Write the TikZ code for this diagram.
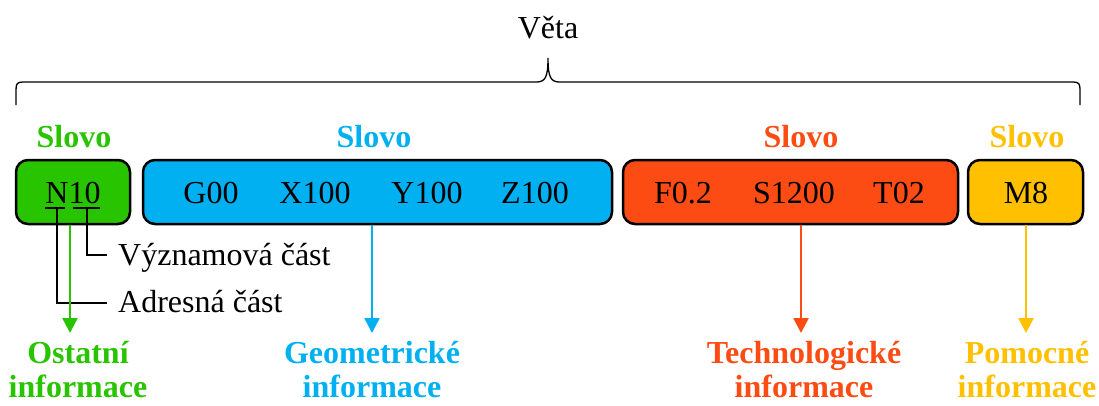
\documentclass[tikz,border=0pt]{standalone}
\usepackage{fontspec}
\setmainfont{Liberation Serif}
\newfontfamily\tms{Liberation Serif}
\usetikzlibrary{arrows.meta}
\definecolor{cgreen}{RGB}{40,196,0}
\definecolor{cblue}{RGB}{0,176,240}
\definecolor{cred}{RGB}{252,76,20}
\definecolor{cyellow}{RGB}{255,192,0}
\begin{document}
\begin{tikzpicture}[x=1pt,y=-1pt,
  box/.style={draw=black, line width=2.5pt, rounded corners=12pt, minimum height=64pt, inner sep=0pt},
  txt/.style={font=\tms\fontsize{32}{35}\selectfont, inner sep=0pt, anchor=base},
  lbl/.style={font=\tms\bfseries\fontsize{32}{34}\selectfont, inner sep=0pt, align=center, anchor=north},
  slovo/.style={font=\tms\bfseries\fontsize{32}{35}\selectfont, inner sep=0pt, anchor=base},
  arr/.style={line width=2.5pt, -{Triangle[width=15pt,length=15pt]}, shorten >=8pt},
  thin/.style={line width=2pt}]
\useasboundingbox (0,0) rectangle (1099,405);

% brace and title
\node[txt] (veta) at (548,38) {Věta};
\draw[line width=1.3pt] (16,105) -- (16,90) .. controls (16,84) and (17,82) .. (23,82)
  -- (536,82) .. controls (545,82) and (548,78) .. (548,58)
  .. controls (548,78) and (551,82) .. (560,82)
  -- (1073,82) .. controls (1079,82) and (1080,84) .. (1080,90) -- (1080,105);

% boxes
\node[box, fill=cgreen, minimum width=114pt] (bN) at (73,192) {};
\node[box, fill=cblue, minimum width=469pt] (bG) at (377.5,192) {};
\node[box, fill=cred, minimum width=335pt] (bF) at (790.5,192) {};
\node[box, fill=cyellow, minimum width=115pt] (bM) at (1025.5,192) {};

% Slovo labels
\node[slovo, text=cgreen] (sN) at (74,147) {Slovo};
\node[slovo, text=cblue] (sG) at (374,147) {Slovo};
\node[slovo, text=cred] (sF) at (801,147) {Slovo};
\node[slovo, text=cyellow] (sM) at (1027,147) {Slovo};

% box texts
\node[txt] (tN) at (73,203) {N10};
\node[txt] (tG) at (211,203) {G00};
\node[txt] (tX) at (315,203) {X100};
\node[txt] (tY) at (427,203) {Y100};
\node[txt] (tZ) at (535,203) {Z100};
\node[txt] (tF) at (683,203) {F0.2};
\node[txt] (tS) at (794,203) {S1200};
\node[txt] (tT) at (899,203) {T02};
\node[txt] (tM) at (1026,203) {M8};

% parts of N10
\coordinate (u1a) at (45,208); \coordinate (u1b) at (65,208);
\coordinate (u2a) at (73,208); \coordinate (u2b) at (100,208);
\coordinate (p1) at (57,208); \coordinate (p2) at (87,208);
\node[txt, anchor=base west] (vyz) at (118,265) {Významová část};
\node[txt, anchor=base west] (adr) at (118,312) {Adresná část};
\draw[thin] (u1a) -- (u1b);
\draw[thin] (u2a) -- (u2b);
\draw[thin] (p2) -- (87,255) -- (107,255);
\draw[thin] (p1) -- (57,303) -- (107,303);

% bottom labels
\node[lbl, text=cgreen] (lN) at (78,341) {Ostatní\\informace};
\node[lbl, text=cblue] (lG) at (372,341) {Geometrické\\informace};
\node[lbl, text=cred] (lF) at (804,341) {Technologické\\informace};
\node[lbl, text=cyellow] (lM) at (1027,341) {Pomocné\\informace};

% arrows
\draw[arr, cgreen] (bN.south -| 70,0) -- (lN.north -| 70,0);
\draw[arr, cblue] (bG.south -| 372,0) -- (lG.north -| 372,0);
\draw[arr, cred] (bF.south -| 801,0) -- (lF.north -| 801,0);
\draw[arr, cyellow] (bM.south -| 1026,0) -- (lM.north -| 1026,0);
\end{tikzpicture}
\end{document}
